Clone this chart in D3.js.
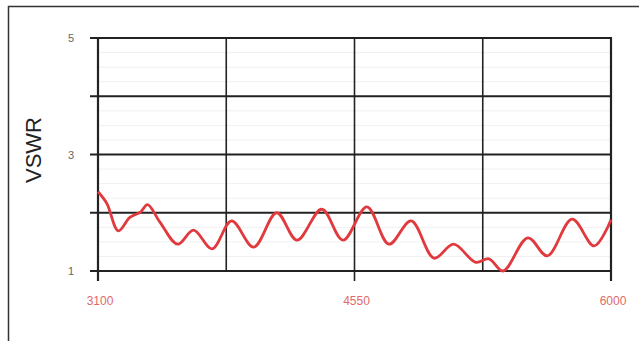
<!DOCTYPE html>
<html><head><meta charset="utf-8">
<script src="https://cdn.jsdelivr.net/npm/d3@7"></script>
<style>body{margin:0;background:#fff}svg{display:block}</style>
</head><body>
<svg id="c" width="639" height="341"></svg>
<script>
const freq = [3100,3150,3215,3280,3340,3380,3450,3550,3640,3745,3855,3980,4110,4225,4365,4485,4620,4745,4870,5000,5110,5235,5310,5390,5530,5640,5780,5905,6000];
const vswr = [2.36,2.16,1.69,1.92,2.01,2.14,1.84,1.46,1.70,1.38,1.86,1.41,2.00,1.53,2.06,1.53,2.10,1.46,1.86,1.22,1.46,1.15,1.21,1.00,1.57,1.26,1.89,1.43,1.88];
const xTickLabels = [3100, 4550, 6000];
const xGrid = [3100, 3825, 4550, 5275, 6000];
const yTickLabels = [1, 3, 5];
const yGrid = [1, 2, 3, 4, 5];
const yMinor = [1.25,1.5,1.75,2.25,2.5,2.75,3.25,3.5,3.75,4.25,4.5,4.75];

const svg = d3.select("#c");
// outer frame
svg.append("path").attr("d","M8.5,341 L8.5,6.5 L639,6.5").attr("fill","none").attr("stroke","#333").attr("stroke-width",1.5);

const x = d3.scaleLinear().domain([3100,6000]).range([98,611]);
const y = d3.scaleLinear().domain([1,5]).range([271,38]);

// minor faint grid
svg.append("g").selectAll("line").data(yMinor).join("line")
  .attr("x1",99).attr("x2",610).attr("y1",d=>y(d)).attr("y2",d=>y(d))
  .attr("stroke","#f0f0f0").attr("stroke-width",1);

// major horizontal grid
svg.append("g").selectAll("line").data(yGrid).join("line")
  .attr("x1",90).attr("x2",612).attr("y1",d=>y(d)).attr("y2",d=>y(d))
  .attr("stroke","#222").attr("stroke-width",2);
// vertical grid
svg.append("g").selectAll("line").data(xGrid).join("line")
  .attr("x1",d=>x(d)).attr("x2",d=>x(d)).attr("y1",37).attr("y2",d=>xTickLabels.includes(d)?281:272)
  .attr("stroke","#222").attr("stroke-width",d=>(d===3100||d===6000)?2.2:1.6);

// y tick labels
svg.append("g").selectAll("text").data(yTickLabels).join("text")
  .attr("x",71).attr("y",d=>y(d)+4).attr("text-anchor","middle")
  .attr("font-family","Liberation Sans, Arial, sans-serif").attr("font-size",11).attr("fill","#666")
  .text(d=>d);
// x tick labels
svg.append("g").selectAll("text").data(xTickLabels).join("text")
  .attr("x",d=>x(d)+2).attr("y",305).attr("text-anchor","middle")
  .attr("font-family","Liberation Sans, Arial, sans-serif").attr("font-size",12).attr("fill","#e06a6a")
  .text(d=>d);
// y title
svg.append("text").attr("transform","translate(41,150) rotate(-90)").attr("text-anchor","middle")
  .attr("font-family","Liberation Sans, Arial, sans-serif").attr("font-size",22).attr("fill","#222")
  .text("VSWR");

// curve
const line = d3.line().x((d,i)=>x(freq[i])).y(d=>y(d)).curve(d3.curveCatmullRom.alpha(0.5));
svg.append("path").datum(vswr).attr("d",line).attr("fill","none")
  .attr("stroke","#e0393e").attr("stroke-width",2.8).attr("stroke-linejoin","round");
</script>
</body></html>
